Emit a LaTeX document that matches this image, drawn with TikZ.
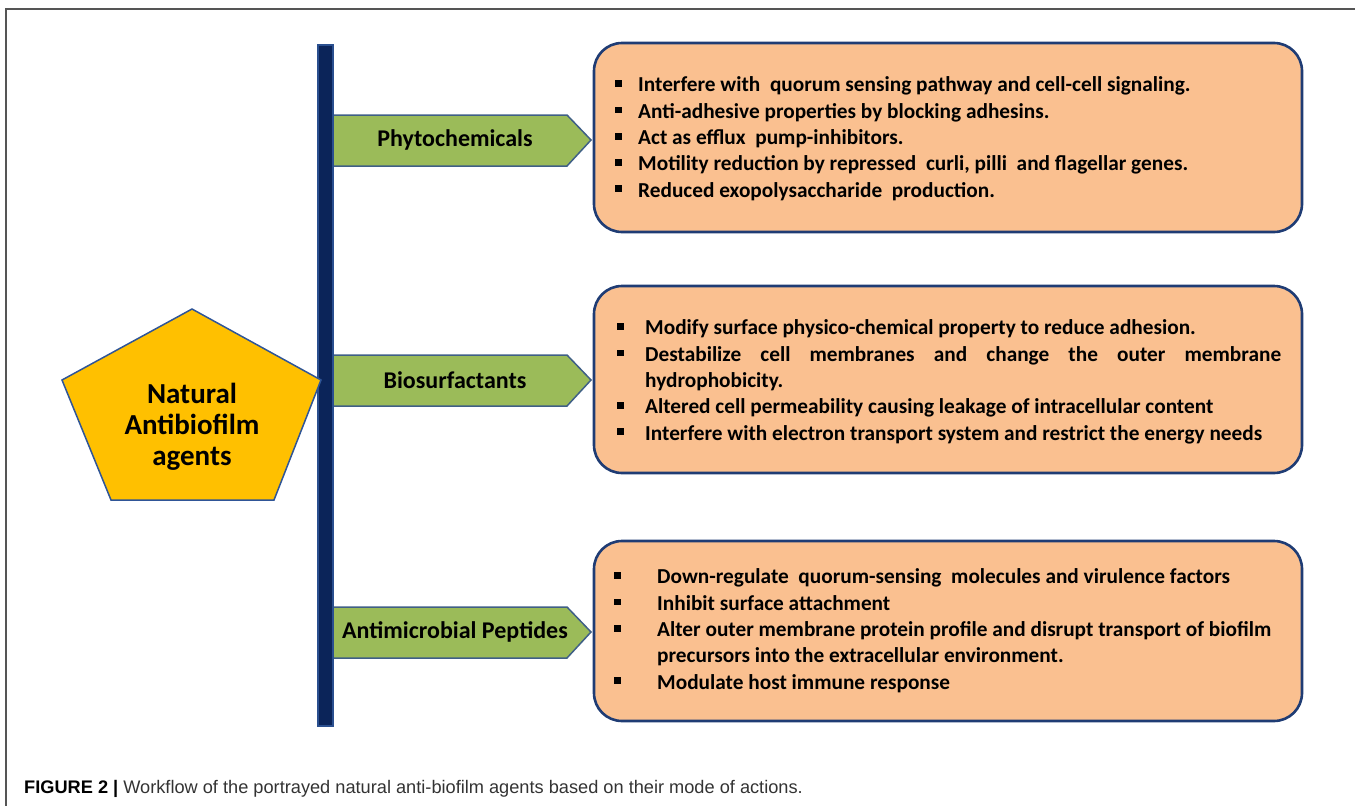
\documentclass[tikz,border=0pt]{standalone}
\usepackage{fontspec}
\setmainfont{Carlito}
\newfontfamily\capfont{Liberation Sans}
\definecolor{barfill}{HTML}{0B2459}
\definecolor{baredge}{HTML}{2A4F8F}
\definecolor{grn}{HTML}{9BBB59}
\definecolor{grnedge}{HTML}{3F5F86}
\definecolor{org}{HTML}{FAC090}
\definecolor{orgedge}{HTML}{1F3C74}
\definecolor{yel}{HTML}{FFC000}
\definecolor{yeledge}{HTML}{2F5597}
\definecolor{framec}{HTML}{555555}
\definecolor{capgray}{HTML}{333333}
\newcommand{\bul}{\raisebox{4.8pt}{\rule{6.8pt}{6.8pt}}}
\tikzset{
  frameline/.style={draw=framec, line width=1.4pt},
  bar/.style={fill=barfill, draw=baredge, line width=1.2pt},
  greenarrow/.style={fill=grn, draw=grnedge, line width=1.5pt, line join=miter},
  pent/.style={fill=yel, draw=yeledge, line width=1.5pt, line join=miter},
  obox/.style={fill=org, draw=orgedge, line width=2.6pt, rounded corners=28pt},
  lbl/.style={font=\fontsize{24}{28}\selectfont\bfseries, inner sep=0pt},
  boxtext/.style={font=\fontsize{21.3}{26.3}\selectfont\bfseries, align=left, inner sep=0pt, anchor=base west},
  captext/.style={font=\capfont\fontsize{18.2}{21}\selectfont, inner sep=0pt, anchor=base west}
}
\begin{document}
\begin{tikzpicture}[x=1pt,y=-1pt]
\useasboundingbox (0,0) rectangle (1355,806);
% frame
\draw[frameline] (6,806) -- (6,9) -- (1355,9);
% green arrows
\draw[greenarrow] (330,115) -- (567,115) -- (591,140) -- (567,166) -- (330,166) -- cycle;
\draw[greenarrow] (330,355) -- (567,355) -- (591,380) -- (567,406) -- (330,406) -- cycle;
\draw[greenarrow] (330,607) -- (567,607) -- (591,632) -- (567,658) -- (330,658) -- cycle;
% vertical bar
\draw[bar] (318,45) rectangle (333,726);
% pentagon
\draw[pent] (192,309) -- (321,380) -- (274,500) -- (111,500) -- (62,380) -- cycle;
\node[font=\fontsize{29}{31}\selectfont\bfseries, align=center, inner sep=0pt] (nat) at (192,427) {Natural\\Antibiofilm\\agents};
% labels
\node[lbl] (phyto) at (455,140) {Phytochemicals};
\node[lbl] (bio) at (455,380) {Biosurfactants};
\node[lbl] (amp) at (455,632) {Antimicrobial Peptides};
% boxes
\node[obox, minimum width=708pt, minimum height=189pt] (b1) at (948,137.5) {};
\node[obox, minimum width=708pt, minimum height=187pt] (b2) at (948,379.5) {};
\node[obox, minimum width=708pt, minimum height=180pt] (b3) at (948,631) {};
% box texts (anchored at the baseline of the last line)
\node[boxtext] (t1) at (615,197) {%
\makebox[23pt][l]{\bul}Interfere with\ \ quorum sensing pathway and cell-cell signaling.\\
\makebox[23pt][l]{\bul}Anti-adhesive properties\ by blocking adhesins.\\
\makebox[23pt][l]{\bul}Act as efflux\ \ pump-inhibitors.\\
\makebox[23pt][l]{\bul}Motility reduction by repressed\ \ curli, pilli\ \ and flagellar genes.\\
\makebox[23pt][l]{\bul}Reduced exopolysaccharide\ \ production.};
\node[boxtext] (t2) at (617,440) {%
\makebox[28pt][l]{\bul}Modify surface physico-chemical property to reduce adhesion.\\
\makebox[28pt][l]{\bul}\makebox[636pt][s]{Destabilize cell membranes and change the outer membrane}\\
\hspace*{28pt}hydrophobicity.\\
\makebox[28pt][l]{\bul}Altered cell permeability causing leakage of intracellular content\\
\makebox[28pt][l]{\bul}Interfere with electron transport system and restrict the energy needs};
\node[boxtext] (t3) at (614,689) {%
\makebox[43pt][l]{\bul}Down-regulate\ \ quorum-sensing\ \ molecules and virulence factors\\
\makebox[43pt][l]{\bul}Inhibit surface attachment\\
\makebox[43pt][l]{\bul}Alter outer membrane protein profile and disrupt transport of biofilm\\
\hspace*{43pt}precursors into the extracellular environment.\\
\makebox[43pt][l]{\bul}Modulate host immune response};
% caption
\node[captext] (cap) at (24,793) {\textbf{FIGURE 2 |} \textcolor{capgray}{Workflow of the portrayed natural anti-biofilm agents based on their mode of actions.}};
\end{tikzpicture}
\end{document}
